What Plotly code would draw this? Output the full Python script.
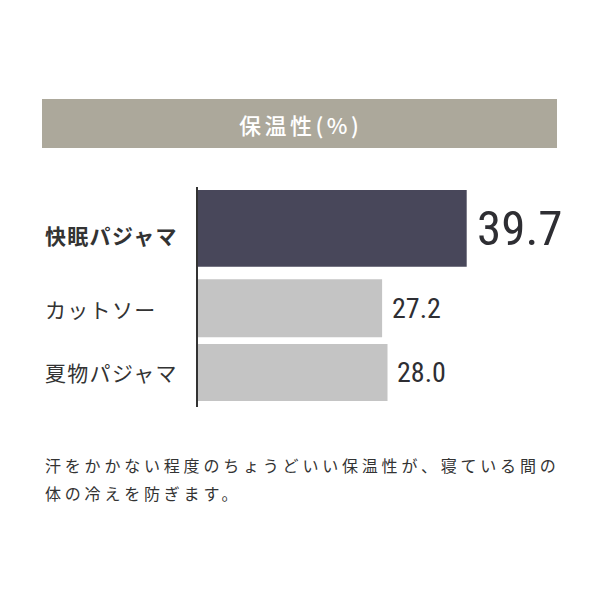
import plotly.graph_objects as go

######### data
categories = ["快眠パジャマ", "カットソー", "夏物パジャマ"]
values = [39.7, 27.2, 28.0]
value_text = ["39.7", "27.2", "28.0"]
title_text = "保温性(%)"
note_lines = ["汗をかかない程度のちょうどいい保温性が、寝ている間の",
              "体の冷えを防ぎます。"]

######### page geometry (px, as seen on the page)
W, H = 600, 600
OFF = 8                       # the browser puts the figure 8px in from the corner
PLOT_L, PLOT_R = 198, 557
PLOT_T, PLOT_B = 187, 407
CAT_TOP, CAT_STEP = 231, 72   # px of first category centre, px per category


def px_x(px):  # page px -> paper x
    return (px - PLOT_L) / (PLOT_R - PLOT_L)


def px_y(py):  # page px -> paper y
    return (PLOT_B - py) / (PLOT_B - PLOT_T)


def ls(text, spacing):
    return '<span style="letter-spacing:%spx">%s</span>' % (spacing, text)


JP = "Noto Sans CJK JP, Noto Sans, sans-serif"
NUM = "Liberation Sans Narrow, Roboto Condensed, Roboto, sans-serif"

bar_colors = ["#48475a", "#c4c4c4", "#c4c4c4"]
bar_offsets = [-0.57, -0.33, -0.43]
bar_widths = [1.065, 0.805, 0.79]

fig = go.Figure(go.Bar(
    x=values,
    y=categories,
    orientation="h",
    marker=dict(color=bar_colors, line=dict(width=0)),
    offset=bar_offsets,
    width=bar_widths,
    hoverinfo="skip",
))

x_max = (PLOT_R - PLOT_L) / ((466.7 - PLOT_L) / values[0])
y_lo = (PLOT_T - CAT_TOP) / CAT_STEP
y_hi = (PLOT_B - CAT_TOP) / CAT_STEP

fig.update_xaxes(range=[0, x_max], visible=False)
fig.update_yaxes(range=[y_hi, y_lo], type="category", showticklabels=False,
                 showgrid=False, zeroline=False, ticks="",
                 showline=True, linecolor="#333333", linewidth=2)

# header band
fig.add_shape(type="rect", xref="paper", yref="paper",
              x0=px_x(42), x1=px_x(557), y0=px_y(148), y1=px_y(99),
              fillcolor="#aca89b", line=dict(width=0), layer="below")

anns = []
anns.append(dict(text=ls(title_text, 3.5), xref="paper", yref="paper",
                 x=px_x(300), y=px_y(124.5), xanchor="center", yanchor="middle",
                 showarrow=False,
                 font=dict(family=JP, size=22, color="#ffffff", weight=500)))

# category labels, left aligned
label_shift = [-3.5, -6, 3.3]
for i, c in enumerate(categories):
    anns.append(dict(text=ls(c, 1.3), xref="paper", yref="y",
                     x=px_x(43), y=c, xanchor="left", yanchor="middle",
                     yshift=label_shift[i], showarrow=False,
                     font=dict(family=JP, size=21, color="#333333",
                               weight="bold" if i == 0 else "normal")))

# value labels
num_sizes = [49, 28, 28]
num_shift = [2.7, -5, 2.5]
num_gap = [8, 8, 7]
for i, c in enumerate(categories):
    anns.append(dict(text=value_text[i], xref="x", yref="y",
                     x=values[i], y=c, xanchor="left", yanchor="middle",
                     xshift=num_gap[i], yshift=num_shift[i], showarrow=False,
                     font=dict(family=NUM, size=num_sizes[i], color="#2e2e33")))

# note under the chart
for i, line in enumerate(note_lines):
    anns.append(dict(text=ls(line, 3.8), xref="paper", yref="paper",
                     x=px_x(43), y=px_y(465 + 28 * i), xanchor="left",
                     yanchor="middle", showarrow=False,
                     font=dict(family=JP, size=16, color="#333333")))

fig.update_layout(
    width=W, height=H,
    margin=dict(l=PLOT_L - OFF, r=W - PLOT_R + OFF, t=PLOT_T - OFF,
                b=H - PLOT_B + OFF, autoexpand=False),
    paper_bgcolor="#ffffff", plot_bgcolor="#ffffff",
    showlegend=False,
    annotations=anns,
)

fig.write_html("out.html")
